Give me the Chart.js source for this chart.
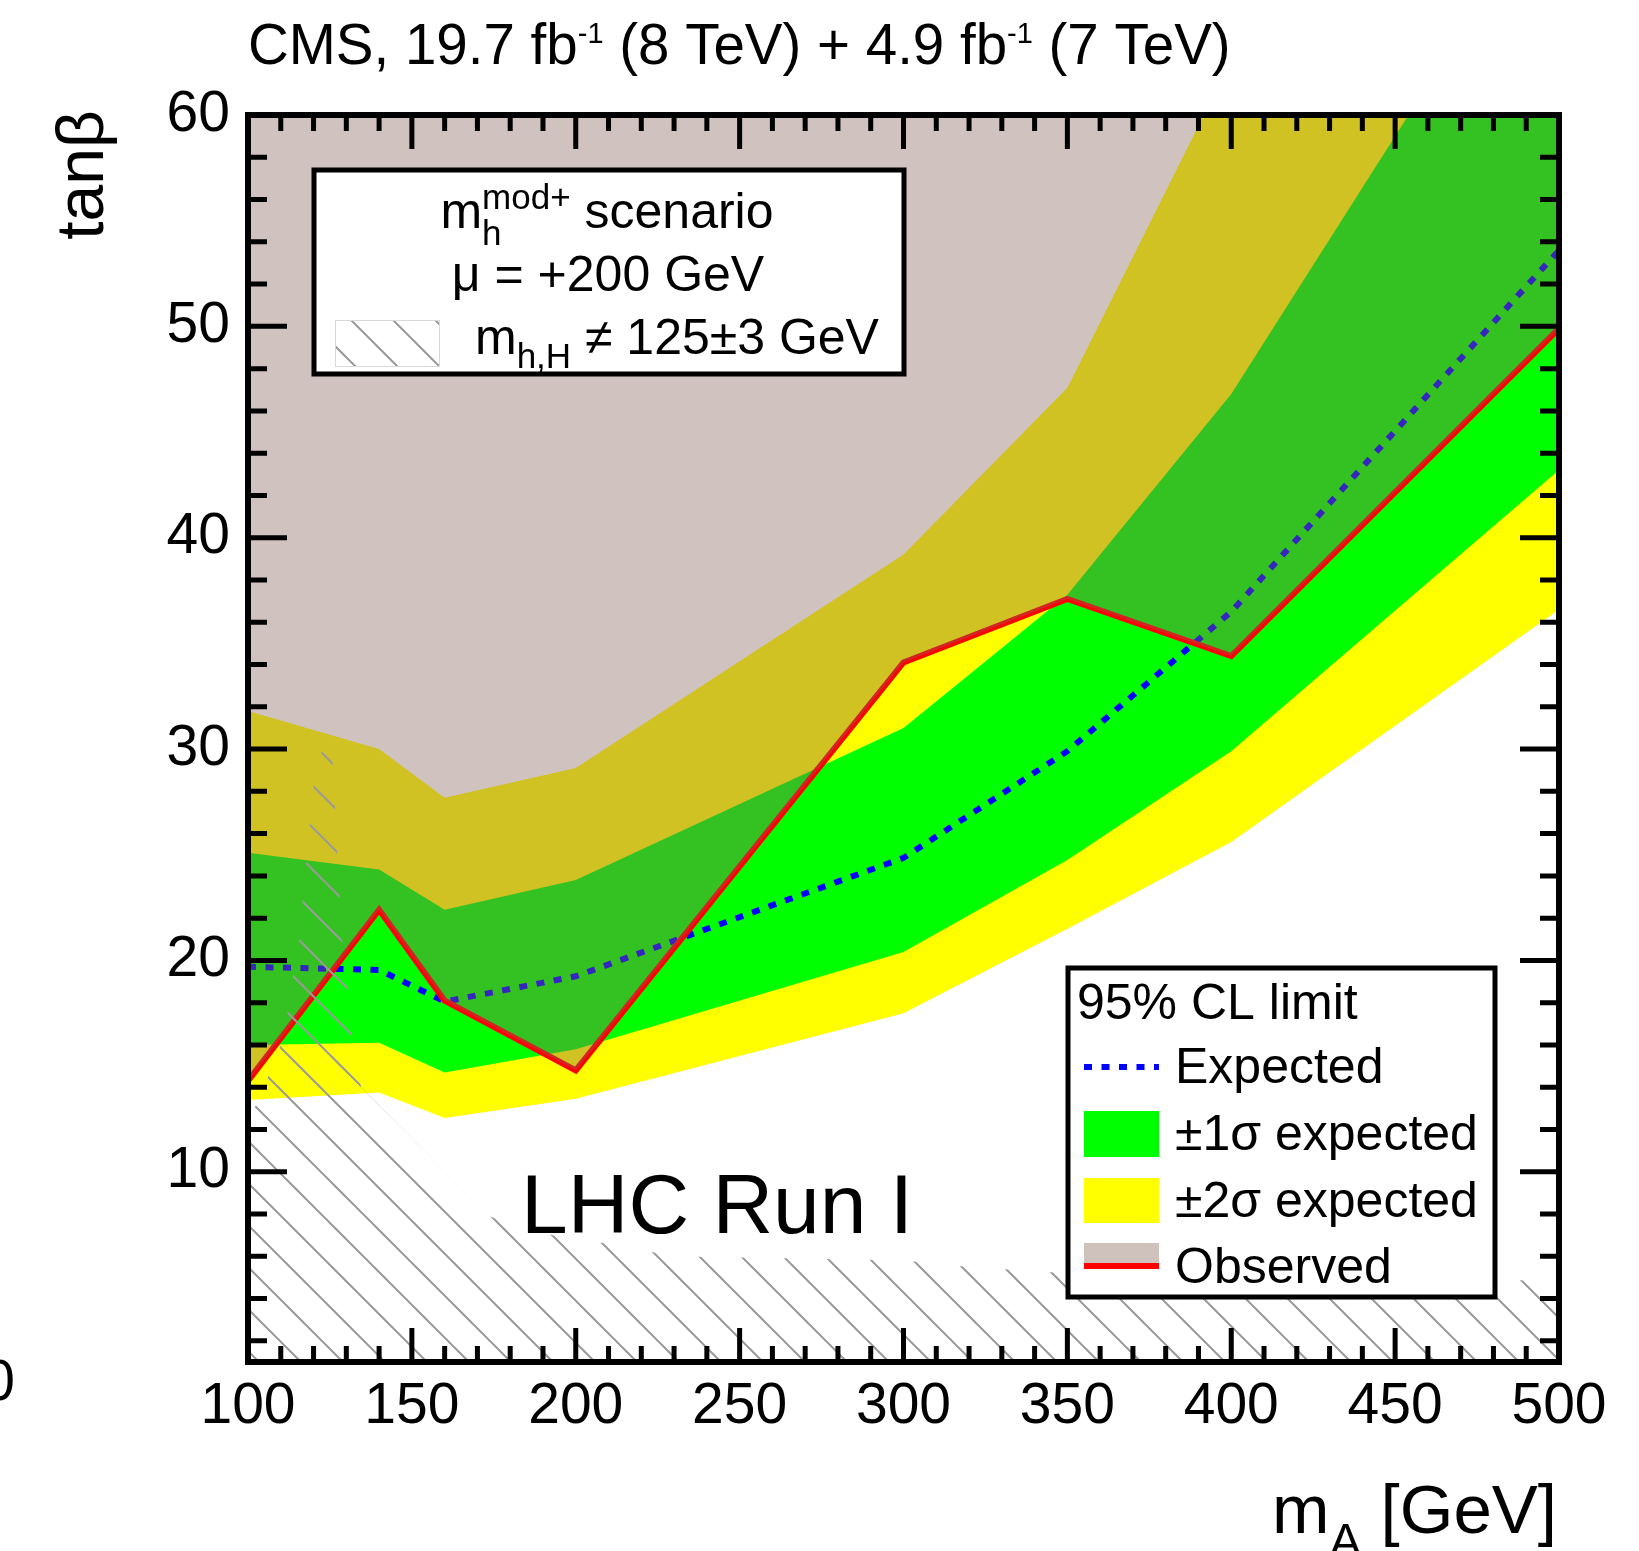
<!DOCTYPE html>
<html>
<head>
<meta charset="utf-8">
<script src="https://cdn.jsdelivr.net/npm/chart.js@4.4.1/dist/chart.umd.min.js"></script>
<style>
  html, body { margin: 0; padding: 0; background: #ffffff; }
  canvas { display: block; }
</style>
</head>
<body>
<canvas id="limits" width="1639" height="1551"></canvas>
<script>
// m_A scan points [GeV]
const massPoints = [100, 140, 160, 200, 300, 350, 400, 500];
// 95% CL upper limits on tan(beta)
const expectedLimit = [19.7, 19.55, 18.05, 19.25, 24.85, 29.9, 36.5, 53.6];
const observedLimit = [14.3, 22.4, 18.1, 14.8, 34.1, 37.1, 34.4, 49.9];
const oneSigmaLow   = [16.0, 16.1, 14.7, 15.8, 20.4, 24.75, 29.9, 43.2];
const oneSigmaHigh  = [25.1, 24.3, 22.4, 23.8, 31.0, 37.3, 46.8, 71.2];
const twoSigmaLow   = [13.4, 13.75, 12.55, 13.45, 17.5, 21.5, 25.6, 36.6];
const twoSigmaHigh  = [31.8, 30.0, 27.7, 29.1, 39.2, 47.1, 62.6, 78.0];

// region where neither h nor H lies within 125 +- 3 GeV (closed contour)
const hatchMass = [100, 100, 102, 106, 110, 112, 113.7, 115.6, 117.7, 120, 122.5, 124.5, 125.8, 127.2, 128.7, 131.7, 134.5, 173.5, 195, 210, 230, 300, 320, 350, 400, 500, 500];
const hatchTanb = [1, 12.3, 13.0, 14.45, 16.0, 17.5, 19.2, 21.0, 24.6, 28.2, 29.9, 30.3, 29.5, 25.2, 21.0, 16.5, 14.0, 7.9, 6.9, 6.6, 6.0, 5.8, 5.5, 5.2, 5.05, 4.85, 1];

// axis labelling
const xTickLabels = [100, 150, 200, 250, 300, 350, 400, 450, 500];
const yTickLabels = [10, 20, 30, 40, 50, 60];

const FONT = '"Liberation Sans", Arial, Helvetica, sans-serif';
const fontOf = (size) => `${size}px ${FONT}`;

const canvas = document.getElementById('limits');
const ctx = canvas.getContext('2d');

function makeHatch(target) {
  const s = 42;
  const tile = document.createElement('canvas');
  tile.width = s; tile.height = s;
  const g = tile.getContext('2d');
  g.strokeStyle = '#9a9a9a';
  g.lineWidth = 2;
  g.beginPath();
  for (let k = -2; k <= 2; k++) {
    const x0 = k * s - 11;
    g.moveTo(x0 - 6, -6);
    g.lineTo(x0 + s + 6, s + 6);
  }
  g.stroke();
  return target.createPattern(tile, 'repeat');
}
const hatchPattern = makeHatch(ctx);

const toXY = (xs, ys) => xs.map((x, i) => ({ x, y: ys[i] }));

// text with sub/superscripts, drawn piece by piece
function drawRich(c, x, y, parts, align) {
  const widths = parts.map(p => {
    c.font = fontOf(p.size);
    if (p.stack) return Math.max(c.measureText(p.sup).width, c.measureText(p.sub).width);
    return c.measureText(p.t).width;
  });
  const total = widths.reduce((a, b) => a + b, 0);
  let cx = align === 'right' ? x - total : align === 'center' ? x - total / 2 : x;
  c.textAlign = 'left';
  c.textBaseline = 'alphabetic';
  parts.forEach((p, i) => {
    c.font = fontOf(p.size);
    if (p.stack) {
      c.fillText(p.sup, cx, y + p.supDy);
      c.fillText(p.sub, cx, y + p.subDy);
    } else {
      c.fillText(p.t, cx, y + (p.dy || 0));
    }
    cx += widths[i];
  });
}

const pageBackground = {
  id: 'pageBackground',
  beforeDraw(chart) {
    const c = chart.ctx;
    c.save();
    c.fillStyle = '#ffffff';
    c.fillRect(0, 0, chart.width, chart.height);
    c.restore();
  }
};

const frameAndTicks = {
  id: 'frameAndTicks',
  afterDatasetsDraw(chart) {
    const c = chart.ctx;
    const a = chart.chartArea;
    const xs = chart.scales.x, ys = chart.scales.y;
    c.save();
    c.strokeStyle = '#000000';
    c.lineCap = 'butt';
    c.lineWidth = 5;
    c.beginPath();
    // m_A ticks every 10 GeV, long ones every 50 GeV
    for (let i = 1; i < 40; i++) {
      const v = 100 + i * 10;
      const px = xs.getPixelForValue(v);
      const len = (i % 5 === 0) ? 34 : 16;
      c.moveTo(px, a.bottom); c.lineTo(px, a.bottom - len);
      c.moveTo(px, a.top); c.lineTo(px, a.top + len);
    }
    // tan(beta) ticks every 2, long ones every 10
    for (let v = 2; v < 60; v += 2) {
      const py = ys.getPixelForValue(v);
      const len = (v % 10 === 0) ? 39 : 19;
      c.moveTo(a.left, py); c.lineTo(a.left + len, py);
      c.moveTo(a.right, py); c.lineTo(a.right - len, py);
    }
    c.stroke();
    c.lineWidth = 6;
    c.strokeRect(a.left, a.top, a.right - a.left, a.bottom - a.top);
    c.restore();
  }
};

const annotations = {
  id: 'annotations',
  afterDatasetsDraw(chart) {
    const c = chart.ctx;
    c.save();
    c.fillStyle = '#000000';

    // header line
    drawRich(c, 248, 64, [
      { t: 'CMS, 19.7 fb', size: 56.5 },
      { t: '-1', size: 29, dy: -21 },
      { t: ' (8 TeV) + 4.9 fb', size: 56.5 },
      { t: '-1', size: 29, dy: -21 },
      { t: ' (7 TeV)', size: 56.5 }
    ], 'left');

    // axis titles
    drawRich(c, 1557, 1533, [
      { t: 'm', size: 69 },
      { t: 'A', size: 48, dy: 24 },
      { t: ' [GeV]', size: 69 }
    ], 'right');
    c.save();
    c.translate(103, 110);
    c.rotate(-Math.PI / 2);
    c.font = fontOf(66);
    c.textAlign = 'right';
    c.textBaseline = 'alphabetic';
    c.fillText('tanβ', 0, 0);
    c.restore();

    c.font = fontOf(57);
    c.textAlign = 'right';
    c.fillText('0', 15, 1400);

    // scenario box
    c.fillStyle = '#ffffff';
    c.fillRect(314, 170, 590, 204);
    c.strokeStyle = '#000000';
    c.lineWidth = 5;
    c.strokeRect(314, 170, 590, 204);
    c.fillStyle = '#000000';
    drawRich(c, 607, 228, [
      { t: 'm', size: 50 },
      { stack: true, sup: 'mod+', sub: 'h', size: 35, supDy: -19, subDy: 17 },
      { t: ' scenario', size: 50 }
    ], 'center');
    drawRich(c, 608, 291, [{ t: 'μ = +200 GeV', size: 50 }], 'center');
    c.fillStyle = hatchPattern;
    c.fillRect(335, 320, 105, 47);
    c.strokeStyle = '#d8d8d8';
    c.lineWidth = 1;
    c.strokeRect(335.5, 320.5, 104, 46);
    c.fillStyle = '#000000';
    drawRich(c, 475, 354, [
      { t: 'm', size: 50 },
      { t: 'h,H', size: 35, dy: 14 },
      { t: ' ≠ 125±3 GeV', size: 50 }
    ], 'left');

    // run label
    c.font = fontOf(84);
    c.textAlign = 'left';
    c.fillText('LHC Run I', 521, 1233);

    // limit legend
    c.fillStyle = '#ffffff';
    c.fillRect(1068, 968, 427, 329);
    c.strokeStyle = '#000000';
    c.lineWidth = 5;
    c.strokeRect(1068, 968, 427, 329);
    c.fillStyle = '#000000';
    c.font = fontOf(50);
    c.textAlign = 'left';
    c.fillText('95% CL limit', 1077, 1019);
    c.fillText('Expected', 1175, 1083);
    c.fillText('±1σ expected', 1175, 1150);
    c.fillText('±2σ expected', 1175, 1217);
    c.fillText('Observed', 1175, 1283);
    c.save();
    c.strokeStyle = '#0000ff';
    c.lineWidth = 6;
    c.setLineDash([8, 9.5]);
    c.beginPath();
    c.moveTo(1084, 1067); c.lineTo(1159, 1067);
    c.stroke();
    c.restore();
    c.fillStyle = '#00ff00';
    c.fillRect(1084, 1111, 75, 46);
    c.fillStyle = '#ffff00';
    c.fillRect(1084, 1178, 75, 45);
    c.fillStyle = '#cfc2bd';
    c.fillRect(1084, 1243, 75, 20);
    c.fillStyle = '#ff0000';
    c.fillRect(1084, 1263, 75, 6);

    c.restore();
  }
};

new Chart(ctx, {
  type: 'line',
  data: {
    datasets: [
      { label: '+2 sigma', data: toXY(massPoints, twoSigmaHigh), fill: 1, backgroundColor: '#ffff00',
        borderColor: 'rgba(0,0,0,0)', borderWidth: 1, pointRadius: 0, order: 10 },
      { label: '-2 sigma', data: toXY(massPoints, twoSigmaLow), fill: false,
        borderColor: 'rgba(0,0,0,0)', borderWidth: 1, pointRadius: 0, order: 10 },
      { label: '+1 sigma', data: toXY(massPoints, oneSigmaHigh), fill: 3, backgroundColor: '#00ff00',
        borderColor: 'rgba(0,0,0,0)', borderWidth: 1, pointRadius: 0, order: 9 },
      { label: '-1 sigma', data: toXY(massPoints, oneSigmaLow), fill: false,
        borderColor: 'rgba(0,0,0,0)', borderWidth: 1, pointRadius: 0, order: 9 },
      { label: 'Expected', data: toXY(massPoints, expectedLimit), fill: false,
        borderColor: '#0000ff', borderWidth: 6, borderDash: [8, 9.5], pointRadius: 0, order: 8 },
      { label: 'Observed', data: toXY(massPoints, observedLimit), fill: false,
        borderColor: '#ff0000', borderWidth: 6, borderJoinStyle: 'miter', pointRadius: 0, order: 7 },
      { label: 'Observed excluded', data: toXY(massPoints, observedLimit), fill: 'end',
        backgroundColor: 'rgba(135,97,87,0.39)', borderColor: 'rgba(0,0,0,0)', borderWidth: 1, pointRadius: 0, order: 6 },
      { label: 'mh,H != 125+-3 GeV', data: toXY(hatchMass, hatchTanb), fill: 'shape',
        backgroundColor: hatchPattern, borderColor: 'rgba(0,0,0,0)', borderWidth: 1, pointRadius: 0, order: 5 }
    ]
  },
  options: {
    responsive: false,
    animation: false,
    devicePixelRatio: 1,
    layout: { padding: { left: 0, top: 115, right: 80, bottom: 0 } },
    elements: { line: { tension: 0 }, point: { radius: 0 } },
    plugins: { legend: { display: false }, tooltip: { enabled: false }, title: { display: false } },
    scales: {
      x: {
        type: 'linear', position: 'bottom', min: 100, max: 500,
        grid: { display: false, drawTicks: false },
        border: { display: false },
        afterBuildTicks: (s) => { s.ticks = xTickLabels.map(v => ({ value: v })); },
        afterFit: (s) => { s.height = 189; },
        ticks: { font: { family: FONT, size: 57 }, color: '#000000', padding: 11, maxRotation: 0, autoSkip: false }
      },
      y: {
        type: 'linear', position: 'left', min: 1, max: 60,
        grid: { display: false, drawTicks: false },
        border: { display: false },
        afterBuildTicks: (s) => { s.ticks = yTickLabels.map(v => ({ value: v })); },
        afterFit: (s) => { s.width = 248; },
        ticks: { font: { family: FONT, size: 57 }, color: '#000000', padding: 18, autoSkip: false }
      }
    }
  },
  plugins: [pageBackground, frameAndTicks, annotations]
});
</script>
</body>
</html>
